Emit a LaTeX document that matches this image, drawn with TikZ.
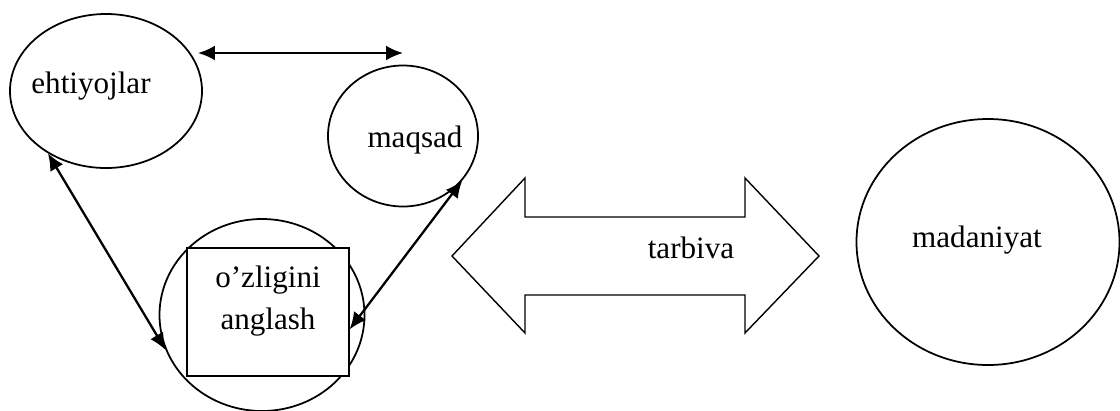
\documentclass[tikz,border=0pt]{standalone}
\usepackage{fontspec}
\setmainfont{Liberation Serif}
\usetikzlibrary{shapes.geometric,arrows.meta}
\newcommand{\pxu}{0.02cm}
\begin{document}
\begin{tikzpicture}[x=0.02cm,y=-0.02cm]
    \tikzset{
        idea node/.style={ellipse,draw,line width=1pt,inner sep=0},
        word/.style={anchor=base,inner sep=0,font=\fontsize{17.7}{23.8}\selectfont},
        link/.style={{Latex[length=0.34cm,width=0.3cm]}-{Latex[length=0.34cm,width=0.3cm]},line width=1.3pt}
    }
    \useasboundingbox (0,0) rectangle (1120,410);
    % the ovals
    \node[idea node,minimum width=192*\pxu,minimum height=154*\pxu] (needs) at (106,91) {};
    \node[idea node,minimum width=150*\pxu,minimum height=141*\pxu] (goal) at (403,136) {};
    \node[idea node,minimum width=205*\pxu,minimum height=192*\pxu] (self) at (262,315) {};
    \node[draw,fill=white,line width=0.7pt,inner sep=0,minimum width=162*\pxu,minimum height=128*\pxu] (selfbox) at (268,312) {};
    \node[idea node,minimum width=263*\pxu,minimum height=246*\pxu] (culture) at (988,242) {};
    % texts
    \node[word] (needstext) at (91,93) {ehtiyojlar};
    \node[word] (goaltext) at (415,147) {maqsad};
    \node[word] (selftexta) at (268,287) {o’zligini};
    \node[word] (selftextb) at (268,329) {anglash};
    \node[word] (culturetext) at (977,247) {madaniyat};
    % links
    \coordinate (topleft) at (198,53);
    \coordinate (topright) at (403,53);
    \draw[link] (topleft) -- (topright);
    \draw[link] (needs.227) -- (self.200);
    \draw[link] (goal.-37) -- (selfbox.-12.5);
    % big double arrow
    \draw[line width=0.8pt] (452,256) -- (525,178) -- (525,217) -- (745,217) -- (745,178)
        -- (819,256) -- (745,333) -- (745,295) -- (525,295) -- (525,333) -- cycle;
    \node[word] (arrowtext) at (691,258) {tarbiva};
\end{tikzpicture}
\end{document}
